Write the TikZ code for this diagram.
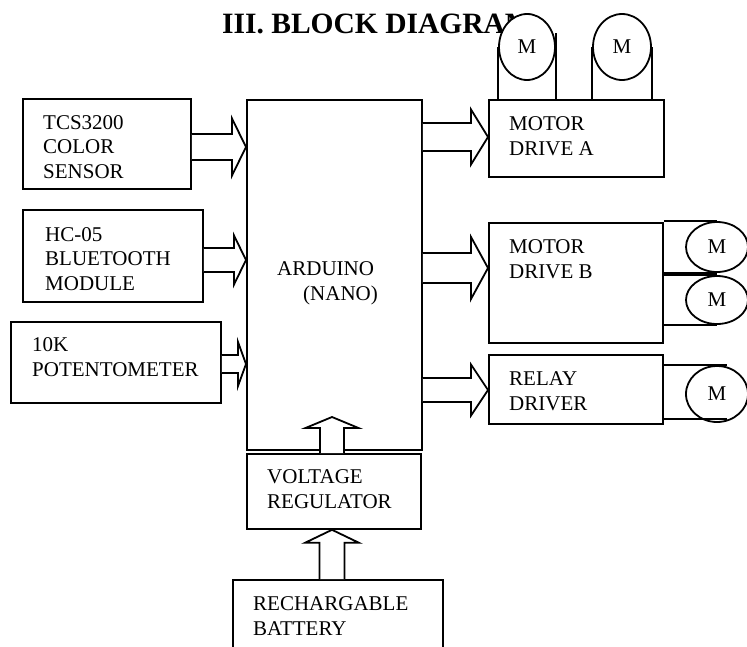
\documentclass[tikz,border=0pt]{standalone}
\usepackage{fontspec}
\setmainfont{Liberation Serif}
\usetikzlibrary{calc,shapes.geometric}

\newcommand{\blkfont}{\fontsize{21}{24.5}\selectfont}

% horizontal block arrow: {start}{end}{shaft half width}{head half width}{head length}
\newcommand{\harrow}[5]{%
  \draw[wire, fill=white] let \p1=(#1), \p2=(#2) in
    (\x1,\y1+#3) -- (\x2-#5,\y1+#3) -- (\x2-#5,\y1+#4) -- (\x2,\y1)
    -- (\x2-#5,\y1-#4) -- (\x2-#5,\y1-#3) -- (\x1,\y1-#3);}
% vertical block arrow (pointing up), same arguments
\newcommand{\varrow}[5]{%
  \draw[wire, fill=white] let \p1=(#1), \p2=(#2) in
    (\x1-#3,\y1) -- (\x1-#3,\y2-#5) -- (\x1-#4,\y2-#5) -- (\x1,\y2)
    -- (\x1+#4,\y2-#5) -- (\x1+#3,\y2-#5) -- (\x1+#3,\y1);}

\tikzset{
  wire/.style={line width=1.8pt},
  blk/.style={draw, wire, rectangle, inner sep=0pt, anchor=north west},
  % base anchor = baseline of the last line
  txt/.style={font=\blkfont, anchor=base west, align=left, inner sep=0pt},
  motor/.style={draw, wire, ellipse, fill=white, inner sep=0pt, font=\blkfont}
}

\begin{document}
\begin{tikzpicture}[x=1pt, y=-1pt]
        \useasboundingbox (0,0) rectangle (747,646);

        % --- TITLE ---
        \node[anchor=base west, inner sep=0pt, font=\fontsize{29.5}{32}\selectfont\bfseries]
            (title) at (222,33) {III. BLOCK DIAGRAM};

        % --- BLOCKS ---
        \node[blk, minimum width=168pt, minimum height=90pt]  (tcs)   at (22,98)   {};
        \node[blk, minimum width=180pt, minimum height=92pt]  (hc)    at (22,209)  {};
        \node[blk, minimum width=210pt, minimum height=81pt]  (pot)   at (10,321)  {};
        \node[blk, minimum width=175pt, minimum height=350pt] (ard)   at (246,99)  {};
        \node[blk, minimum width=174pt, minimum height=75pt]  (vr)    at (246,453) {};
        \node[blk, minimum width=210pt, minimum height=90pt]  (bat)   at (232,579) {};
        \node[blk, minimum width=175pt, minimum height=77pt]  (drvA)  at (488,99)  {};
        \node[blk, minimum width=174pt, minimum height=120pt] (drvB)  at (488,222) {};
        \node[blk, minimum width=174pt, minimum height=69pt]  (relay) at (488,354) {};

        % --- BLOCK TEXTS ---
        \node[txt] (tcstxt)   at (43,178)  {TCS3200\\COLOR\\SENSOR};
        \node[txt] (hctxt)    at (45,290)  {HC-05\\BLUETOOTH\\MODULE};
        \node[txt] (pottxt)   at (32,376)  {10K\\POTENTOMETER};
        \node[txt] (ardtxt)   at (277,300) {ARDUINO\\\hspace*{26pt}(NANO)};
        \node[txt] (vrtxt)    at (267,508) {VOLTAGE\\REGULATOR};
        \node[txt] (battxt)   at (253,635) {RECHARGABLE\\BATTERY};
        \node[txt] (drvAtxt)  at (509,155) {MOTOR\\DRIVE A};
        \node[txt] (drvBtxt)  at (509,278) {MOTOR\\DRIVE B};
        \node[txt] (relaytxt) at (509,410) {RELAY\\DRIVER};

        % --- MOTORS ---
        \node[motor, minimum width=56pt, minimum height=66pt] (mA1) at (527,47)  {M};
        \node[motor, minimum width=58pt, minimum height=66pt] (mA2) at (622,47)  {M};
        \node[motor, minimum width=62pt, minimum height=50pt] (mB1) at (717,247) {M};
        \node[motor, minimum width=62pt, minimum height=48pt] (mB2) at (717,300) {M};
        \node[motor, minimum width=62pt, minimum height=56pt] (mR)  at (717,394) {M};

        % --- MOTOR WIRES ---
        \draw[wire] (mA1.west) -- (mA1.west |- drvA.north);
        \draw[wire] ([yshift=14pt]mA1.east) -- (mA1.east |- drvA.north);
        \draw[wire] (mA2.west) -- (mA2.west |- drvA.north);
        \draw[wire] (mA2.east) -- (mA2.east |- drvA.north);
        \draw[wire] (drvB.east |- mB1.north) -- (mB1.north);
        \draw[wire] (drvB.east |- mB1.south) -- (mB1.south);
        \draw[wire] (drvB.east |- mB2.north) -- (mB2.north);
        \draw[wire] (drvB.east |- mB2.south) -- (mB2.south);
        \coordinate (mRhi) at ([xshift=10pt]mR.north);
        \coordinate (mRlo) at ([xshift=10pt, yshift=4pt]mR.south);
        \draw[wire] (relay.east |- mRhi) -- (mRhi);
        \draw[wire] (relay.east |- mRlo) -- (mRlo);

        % --- BLOCK ARROWS ---
        \harrow{tcs.east |- 0,147}{ard.west}{13}{28.5}{14}
        \harrow{hc.east |- 0,260}{ard.west}{12}{24.5}{12}
        \harrow{pot.east |- 0,364}{ard.west}{9}{22}{8}
        \harrow{ard.east |- 0,137}{drvA.west}{14}{27.5}{17}
        \harrow{ard.east |- 0,268}{drvB.west}{15}{31}{17}
        \harrow{ard.east |- 0,390}{relay.west}{12}{25.5}{17}
        \coordinate (ardin) at (332,417);
        \varrow{vr.north -| 332,0}{ardin}{12}{26.5}{11}
        \varrow{bat.north -| 332,0}{vr.south}{12.5}{27}{13}
\end{tikzpicture}
\end{document}
